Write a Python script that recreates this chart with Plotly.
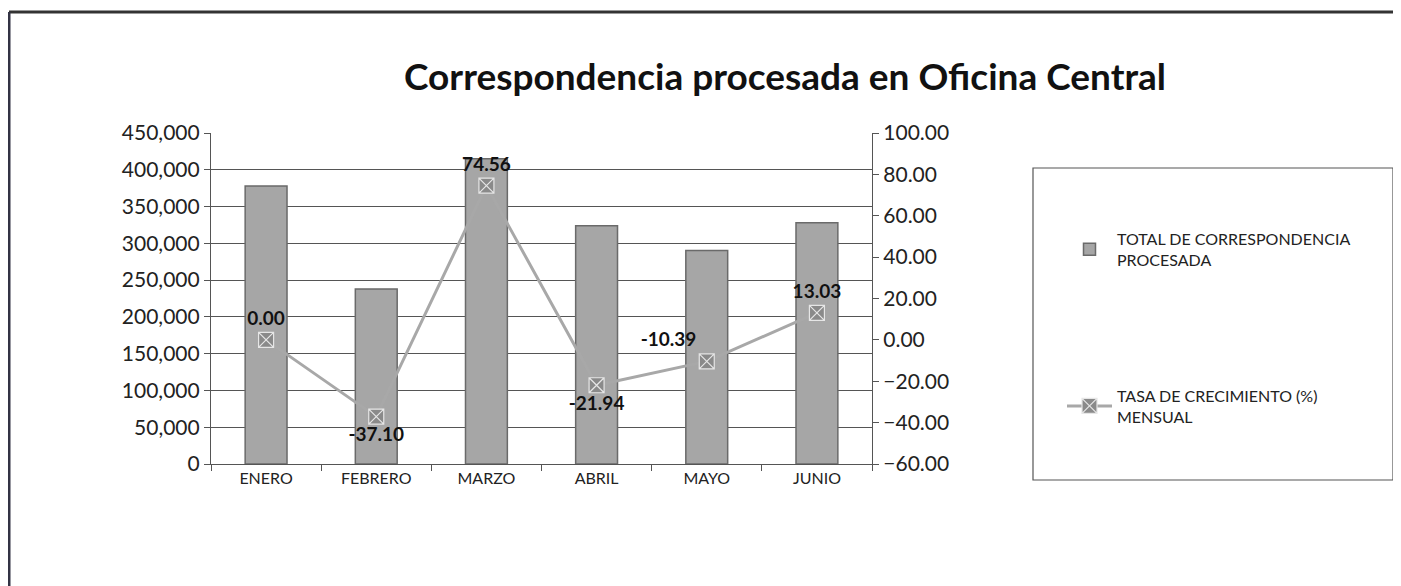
import plotly.graph_objects as go

months = ["ENERO", "FEBRERO", "MARZO", "ABRIL", "MAYO", "JUNIO"]
total = [378000, 237800, 415000, 324000, 290300, 328100]
growth = [0.00, -37.10, 74.56, -21.94, -10.39, 13.03]
growth_labels = ["0.00", "-37.10", "74.56", "-21.94", "-10.39", "13.03"]
label_pos = ["top center", "bottom center", "top center", "bottom center", "top left", "top center"]
left_ticks = [0, 50000, 100000, 150000, 200000, 250000, 300000, 350000, 400000, 450000]
right_ticks = [-60, -40, -20, 0, 20, 40, 60, 80, 100]

OFF = 8  # browser body margin
W, H = 1401 - OFF, 586 - OFF
L, R, T, B = 211, 872, 133, 464  # page pixel coordinates of plot area
def px(x):
    return (x - L) / (R - L)
def py(y):
    return (B - y) / (B - T)

FONT = "Lato"
fig = go.Figure()
fig.add_trace(go.Bar(
    x=months, y=total, name="TOTAL DE CORRESPONDENCIA<br>PROCESADA",
    marker=dict(color="#a6a6a6", line=dict(color="#6a6a6a", width=1.5)),
    width=0.38, yaxis="y", legendgroup="a",
))
fig.add_trace(go.Scatter(
    x=months, y=growth, name="TASA DE CRECIMIENTO (%)<br>MENSUAL",
    mode="lines+markers+text", yaxis="y2", legendgroup="b",
    line=dict(color="#a8a8a8", width=3),
    marker=dict(symbol="square-x", size=15, color="#8a8a8a", line=dict(color="#e6e6e6", width=1.2)),
    text=growth_labels, textposition=label_pos,
    textfont=dict(family=FONT, size=19, color="#111111", weight="bold"),
    cliponaxis=False,
))

fig.update_layout(
    width=W, height=H,
    margin=dict(l=L - OFF, r=W - (R - OFF), t=T - OFF, b=H - (B - OFF)),
    paper_bgcolor="white", plot_bgcolor="white",
    title=dict(text="<b>Correspondencia procesada en Oficina Central</b>",
               x=px(785), xref="paper", xanchor="center",
               y=1 - (77 - OFF) / H, yanchor="middle",
               font=dict(family=FONT, size=37, color="#111111")),
    font=dict(family=FONT, color="#222222"),
    xaxis=dict(showgrid=False, showline=True, linecolor="#555555", linewidth=1.2,
               ticks="outside", tickson="boundaries", ticklen=6, tickcolor="#555555",
               tickfont=dict(family=FONT, size=16, color="#222222")),
    yaxis=dict(range=[0, 450000], tickvals=left_ticks, tickformat=",", showgrid=True,
               gridcolor="#555555", gridwidth=1.2, showline=True, linecolor="#555555",
               linewidth=1.2, ticks="outside", ticklen=6, tickcolor="#555555",
               tickfont=dict(family=FONT, size=21, color="#222222"), zeroline=False),
    yaxis2=dict(range=[-60, 100], tickvals=right_ticks, tickformat=".2f",
                overlaying="y", side="right", showgrid=False, showline=True,
                linecolor="#555555", linewidth=1.2, ticks="outside", ticklen=6,
                tickcolor="#555555", zeroline=False,
                tickfont=dict(family=FONT, size=21, color="#222222")),
    legend=dict(x=px(1062), y=py(222), xanchor="left", yanchor="top",
                bgcolor="rgba(0,0,0,0)", borderwidth=0,
                font=dict(family=FONT, size=16, color="#222222"),
                tracegroupgap=112, traceorder="grouped", itemwidth=45),
    showlegend=True,
    shapes=[
        dict(type="rect", xref="paper", yref="paper", x0=px(1033), x1=px(1393),
             y0=py(480), y1=py(168), line=dict(color="#555555", width=1.2)),
        dict(type="line", xref="paper", yref="paper", x0=px(9), x1=px(1405),
             y0=py(12), y1=py(12), line=dict(color="#333333", width=3)),
        dict(type="line", xref="paper", yref="paper", x0=px(9), x1=px(9),
             y0=py(12), y1=py(600), line=dict(color="#333344", width=3)),
    ],
)

fig.write_html("out.html")
